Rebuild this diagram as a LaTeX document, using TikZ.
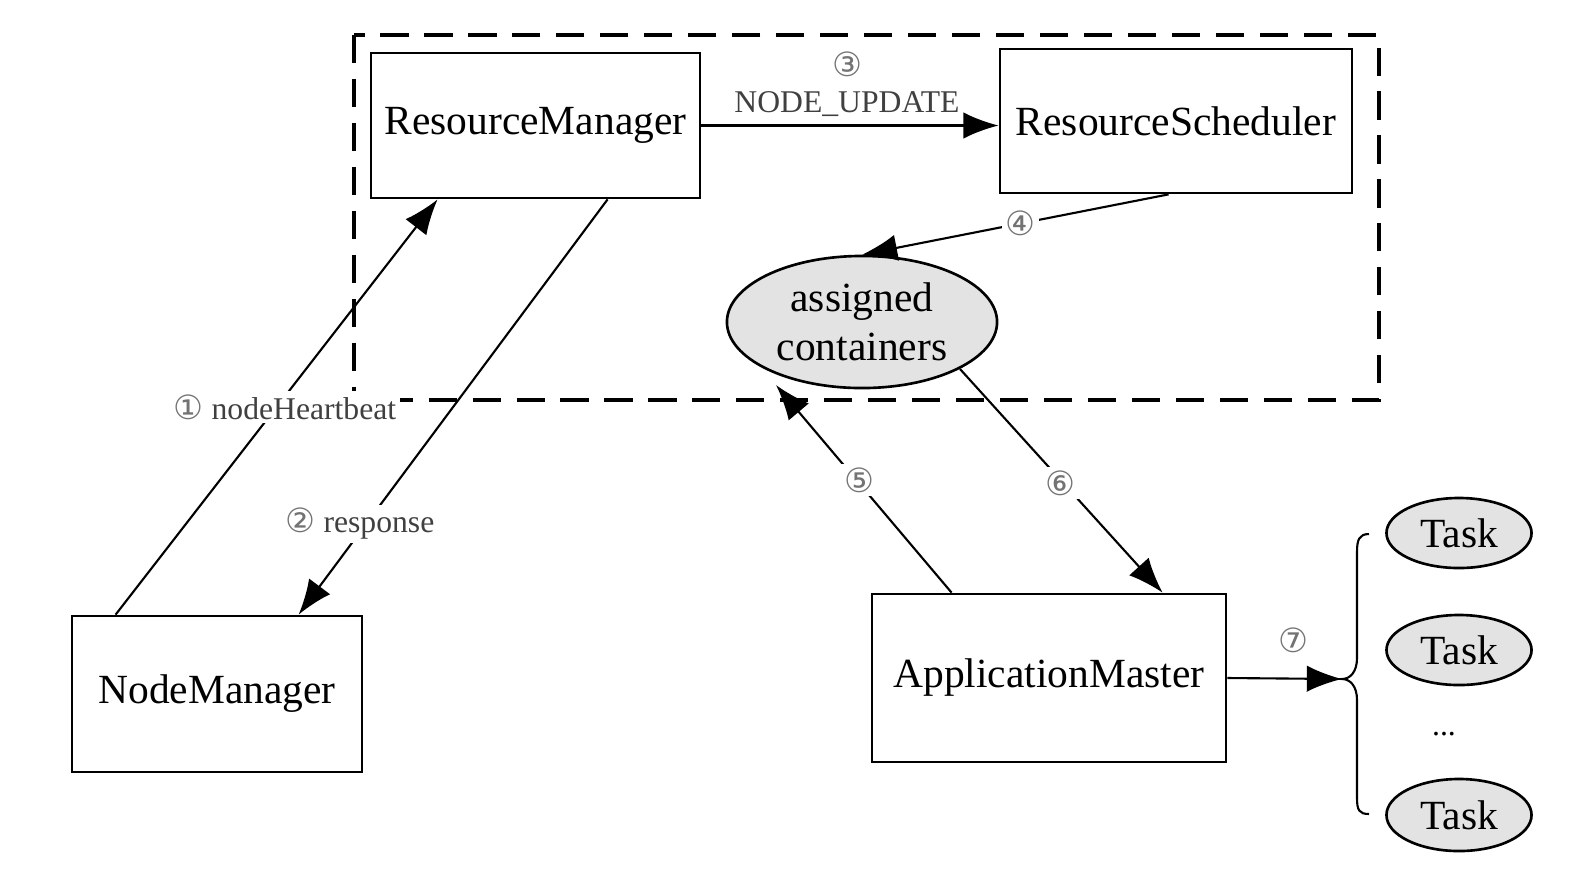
\documentclass[tikz,border=0pt]{standalone}
\usepackage{fontspec}
\setmainfont{Liberation Serif}
\newfontfamily\circfont{DejaVu Sans}
\usetikzlibrary{arrows.meta,shapes.geometric,calc}
\newcommand{\cnum}[1]{{\circfont\fontsize{9.5}{9.5}\selectfont\textcolor{black!55}{#1}}}
\begin{document}
\begin{tikzpicture}[x=0.01cm,y=-0.01cm,
  box/.style={draw,line width=0.75pt,inner sep=0pt,font=\fontsize{11.8}{14}\selectfont},
  oval/.style={ellipse,draw,line width=0.75pt,fill=gray!22,inner sep=0pt,align=center,font=\fontsize{11.8}{14}\selectfont},
  conn/.style={line width=0.6pt,-{Latex[length=10pt,width=7.5pt]}},
  lbl/.style={fill=white,inner sep=1pt,font=\fontsize{9}{10}\selectfont,text=black!75},
  frame/.style={dashed,dash pattern=on 8pt off 4.5pt,line width=1pt}]
\useasboundingbox (0,0) rectangle (1576,890);
\draw[frame] (354,35) rectangle (1379,400);
\node[box,minimum width=3.29cm,minimum height=1.45cm] (rm) at (535.5,125.5) {ResourceManager};
\node[box,minimum width=3.52cm,minimum height=1.44cm] (rs) at (1176,121) {ResourceScheduler};
\node[oval,minimum width=2.7cm,minimum height=1.32cm] (ac) at (862,322) {assigned\\containers};
\node[box,minimum width=2.9cm,minimum height=1.56cm] (nm) at (217,694) {NodeManager};
\node[box,minimum width=3.54cm,minimum height=1.68cm] (am) at (1049,678) {ApplicationMaster};
\node[oval,minimum width=1.45cm,minimum height=0.7cm] (t1) at (1459,533) {Task};
\node[oval,minimum width=1.45cm,minimum height=0.7cm] (t2) at (1459,650) {Task};
\node[oval,minimum width=1.45cm,minimum height=0.72cm] (t3) at (1459,815) {Task};
\node[font=\fontsize{9}{10}\selectfont] (dots) at (1444,734) {...};
\coordinate (bt) at (1342,679);
\draw[line width=0.6pt] (1369,534) .. controls (1359,534) and (1357,540) .. (1357,552) -- (1357,658) .. controls (1357,672) and (1350,679) .. (bt) .. controls (1350,679) and (1357,686) .. (1357,700) -- (1357,798) .. controls (1357,810) and (1359,814) .. (1369,814);
\draw[conn] ($(nm.north west)+(45,0)$) -- ($(rm.south west)+(68,0)$);
\draw[conn] ($(rm.south west)+(238,0)$) -- ($(nm.north west)+(228,0)$);
\draw[conn] (rm.east) -- (rm.east -| rs.west);
\draw[conn] ($(rs.south west)+(170,0)$) -- (ac.north);
\draw[conn] ($(am.north west)+(81,0)$) -- ($(ac.center)+(-86,63)$);
\draw[conn] ($(ac.center)+(98,47)$) -- ($(am.north west)+(292,0)$);
\draw[conn] (am.east) -- (bt);
\node[lbl] (l1) at (285,407) {\cnum{①} nodeHeartbeat};
\node[lbl] (l2) at (360,524) {\cnum{②} response};
\node[lbl,fill=none] (l3) at (847,64) {\cnum{③}};
\node[lbl,fill=none] (l3b) at (847,104) {NODE\_UPDATE};
\node[lbl] (l4) at (1020,223) {\cnum{④}};
\node[lbl] (l5) at (859,480) {\cnum{⑤}};
\node[lbl] (l6) at (1060,483) {\cnum{⑥}};
\node[lbl,fill=none] (l7) at (1293,640) {\cnum{⑦}};
\end{tikzpicture}
\end{document}
